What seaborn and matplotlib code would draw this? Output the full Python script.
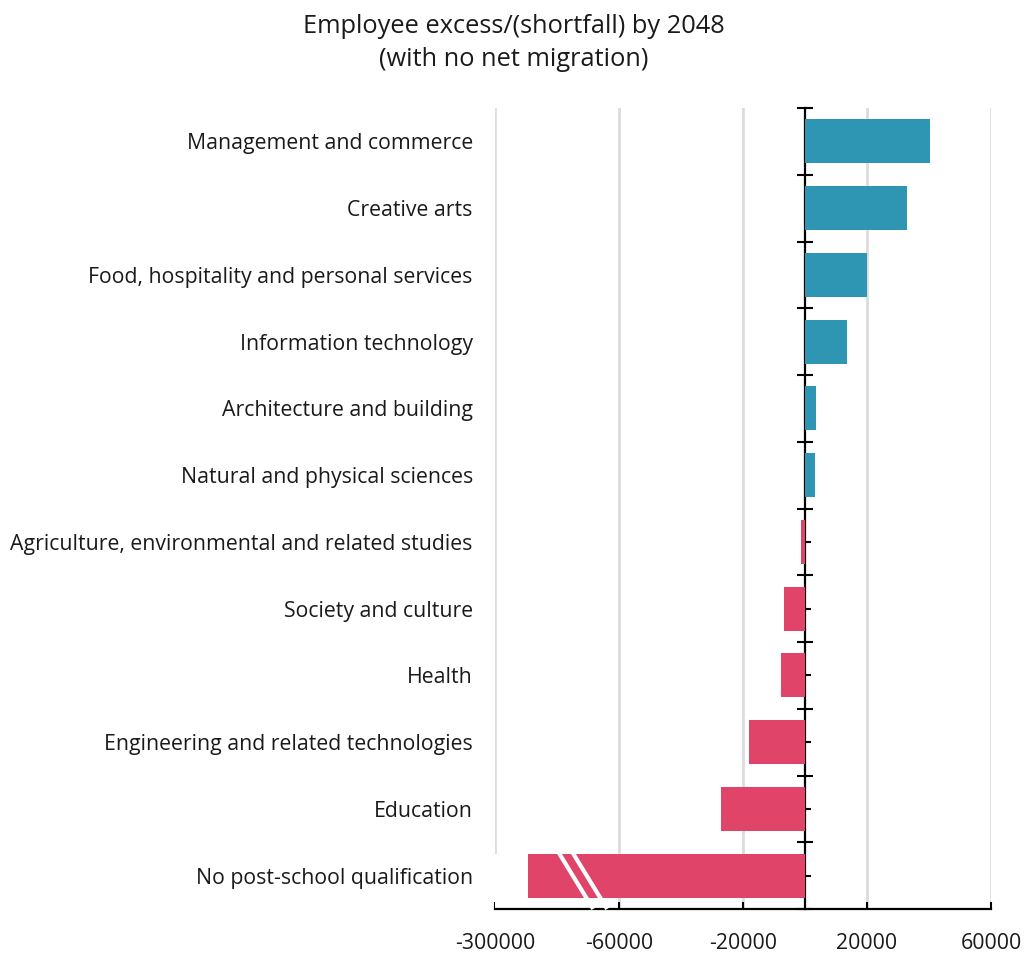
import numpy as np
import pandas as pd
import matplotlib
matplotlib.use("Agg")
import matplotlib.pyplot as plt
import matplotlib.transforms as mtransforms
from matplotlib.patches import Rectangle
from matplotlib.ticker import FixedLocator
import seaborn as sns

# ---------------- data ----------------
categories = [
    "Management and commerce",
    "Creative arts",
    "Food, hospitality and personal services",
    "Information technology",
    "Architecture and building",
    "Natural and physical sciences",
    "Agriculture, environmental and related studies",
    "Society and culture",
    "Health",
    "Engineering and related technologies",
    "Education",
    "No post-school qualification",
]
values = [40300, 32800, 20000, 13400, 3700, 3100, -1200, -6800, -7700, -18000, -27100, -236000]
xticks = [-300000, -60000, -20000, 20000, 60000]
xtick_labels = ["-300000", "-60000", "-20000", "20000", "60000"]
title = "Employee excess/(shortfall) by 2048\n(with no net migration)"

POS_COLOR = "#2E96B3"
NEG_COLOR = "#E04468"

# broken axis: values below -60000 compressed 6x
BREAK = -60000.0
COMPRESS = 6.0


def fwd(x):
    x = np.asarray(x, dtype=float)
    return np.where(x < BREAK, BREAK + (x - BREAK) / COMPRESS, x)


def inv(y):
    y = np.asarray(y, dtype=float)
    return np.where(y < BREAK, BREAK + (y - BREAK) * COMPRESS, y)


sns.set_theme(style="white")
plt.rcParams["font.family"] = ["Open Sans", "DejaVu Sans"]

fig, ax = plt.subplots(figsize=(10.27, 9.56), dpi=100)
fig.subplots_adjust(left=495 / 1027, right=991 / 1027, top=1 - 108 / 956, bottom=1 - 909 / 956)

df = pd.DataFrame({"category": categories, "value": values})
df["sign"] = np.where(df["value"] >= 0, "pos", "neg")

sns.barplot(
    data=df, y="category", x="value", hue="sign",
    palette={"pos": POS_COLOR, "neg": NEG_COLOR},
    orient="h", width=0.66, saturation=1, legend=False, ax=ax,
    linewidth=0,
)

n = len(categories)
ax.set_xscale("function", functions=(fwd, inv))
ax.set_xticks(xticks, labels=xtick_labels)
ax.set_xlabel("")
ax.set_ylabel("")

ax.xaxis.grid(True, color="#dcdcdc", linewidth=2)
ax.yaxis.grid(False)
ax.set_axisbelow(True)

for s in ["top", "right", "left"]:
    ax.spines[s].set_visible(False)
ax.spines["bottom"].set_color("black")
ax.spines["bottom"].set_linewidth(1.6)

ax.tick_params(axis="y", length=0, pad=16, labelsize=15.3, labelcolor="#1a1a1a")
ax.tick_params(axis="x", direction="in", length=5, width=1.5, color="black",
               pad=17, labelsize=15.3, labelcolor="#1a1a1a", bottom=True)

# zero axis with boundary and centre ticks
lo, hi = fwd(xticks[0]), fwd(xticks[-1])
frac = float((fwd(0) - lo) / (hi - lo))
sec = ax.secondary_yaxis(frac)
sec.set_yticks(np.arange(-0.5, n, 1.0), labels=[])
sec.yaxis.set_minor_locator(FixedLocator(np.arange(0, n, 1.0)))
sec.spines["right"].set_visible(True)
sec.spines["right"].set_linewidth(1.6)
sec.spines["right"].set_color("black")
sec.spines["left"].set_visible(False)
sec.tick_params(which="major", direction="inout", length=11.5, width=1.5, color="black",
                labelright=False, labelleft=False)
sec.tick_params(which="minor", direction="out", length=4.3, width=1.5, color="black",
                labelright=False, labelleft=False)

# axis-break marks across the compressed bar
last = n - 1
btrans = mtransforms.blended_transform_factory(ax.transAxes, ax.transData)
bar_top = last - 0.33
for dx in (0.0, 0.028):
    ax.plot([0.128 + dx, 0.198 + dx], [bar_top - 0.02, last + 0.5],
            transform=btrans, color="white", lw=3, solid_capstyle="butt",
            zorder=5, clip_on=False, scalex=False, scaley=False)
ax.add_patch(Rectangle((-0.004, bar_top), 0.06, (last + 0.48) - bar_top,
                       transform=btrans, facecolor="white", edgecolor="none", zorder=1.5))

ax.set_xlim(xticks[0], xticks[-1])
ax.set_ylim(n - 0.5, -0.5)

fig.suptitle(title, fontsize=18.3, color="#1a1a1a", y=0.985, linespacing=1.38)

fig.savefig("out.png", dpi=100)
